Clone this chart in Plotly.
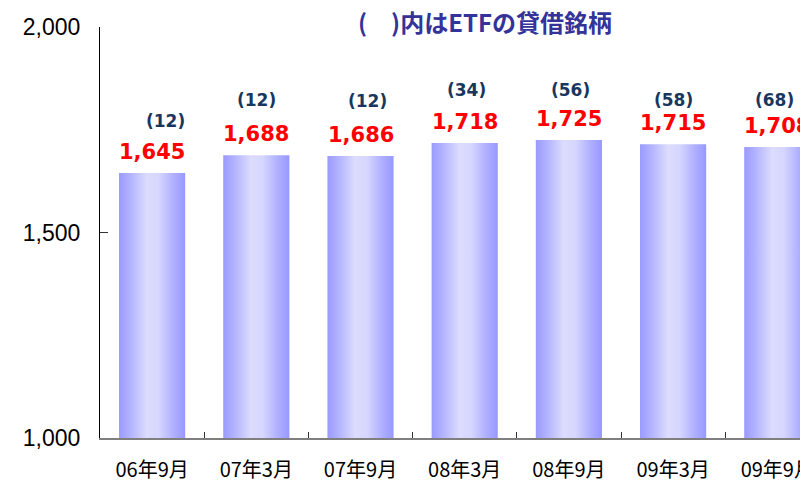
import plotly.graph_objects as go

# ---- data ----
categories = ["06年9月", "07年3月", "07年9月", "08年3月", "08年9月", "09年3月", "09年9月"]
values = [1645, 1688, 1686, 1718, 1725, 1715, 1708]
etf_counts = [12, 12, 12, 34, 56, 58, 68]
y_ticks = [1000, 1500, 2000]
title_text = "(　)内はETFの貸借銘柄"

# ---- style ----
BAR_W = 0.635
BASE = 1000
grad = [[0.0, "#9a9aff"], [0.18, "#b4b4ff"], [0.42, "#dcdcfd"], [0.6, "#d6d6ff"],
        [0.82, "#b0b0ff"], [1.0, "#9898ff"]]
navy_shift_y = [52, 55, 55, 53, 50, 44, 47]
navy_shift_x = [13, 0, 7, 2, 2, 0, -3]

# page has an 8px body margin; figure sized so the plot lands where the reference has it
OFF = 8
W, H = 808, 481 - OFF
ML, MR, MT, MB = 100 - OFF, 0, 27 - OFF, 43
pw, ph = W - ML - MR, H - MT - MB
CAT_PX = 104.2  # pixel width of one category in the reference
x_hi = -0.5 + pw / CAT_PX

fig = go.Figure()
for i, v in enumerate(values):
    x0, x1 = i - BAR_W / 2, i + BAR_W / 2
    fig.add_trace(go.Scatter(
        x=[x0, x1, x1, x0, x0], y=[BASE, BASE, v, v, BASE],
        mode="lines", fill="toself", line=dict(width=0, color="rgba(0,0,0,0)"),
        fillgradient=dict(type="horizontal", colorscale=grad),
        hoverinfo="skip", showlegend=False, cliponaxis=False))

annotations = []
for i, (v, c) in enumerate(zip(values, etf_counts)):
    annotations.append(dict(
        x=i, y=v, xref="x", yref="y", text=f"{v:,}", showarrow=False,
        yanchor="middle", yshift=21,
        font=dict(family="DejaVu Sans", size=21, color="#ff0000", weight="bold")))
    annotations.append(dict(
        x=i, y=v, xref="x", yref="y", text=f"({c})", showarrow=False,
        yanchor="middle", yshift=navy_shift_y[i], xshift=navy_shift_x[i],
        font=dict(family="DejaVu Sans", size=17, color="#17375e", weight="bold")))

annotations.append(dict(
    x=(485 - OFF - ML) / pw, y=(H - MB - (22 - OFF)) / ph, xref="paper", yref="paper",
    xanchor="center", yanchor="middle", text=title_text, showarrow=False,
    font=dict(family="Noto Sans CJK JP", size=24, color="#333399", weight="bold")))

fig.update_layout(
    width=W, height=H,
    margin=dict(l=ML, r=MR, t=MT, b=MB, autoexpand=False),
    paper_bgcolor="white", plot_bgcolor="white",
    annotations=annotations,
    xaxis=dict(
        range=[-0.5, x_hi], tickmode="array",
        tickvals=list(range(len(categories))), ticktext=categories,
        ticks="", showgrid=False, zeroline=False,
        showline=True, linecolor="#7f7f7f", linewidth=2,
        tickfont=dict(family="Noto Sans CJK JP", size=20, color="#000000"),
        ticklabelstandoff=13, ticklabeloverflow="allow",
        minor=dict(tickvals=[i + 0.5 for i in range(len(categories) - 1)],
                   ticks="inside", ticklen=6, tickcolor="#333333", tickwidth=1,
                   showgrid=False),
    ),
    yaxis=dict(
        range=[1000, 2000], tickmode="array", tickvals=y_ticks,
        ticktext=[f"{t:,}" for t in y_ticks],
        ticks="inside", ticklen=8, tickcolor="#333333", tickwidth=1,
        showgrid=False, zeroline=False,
        showline=True, linecolor="#000000", linewidth=1,
        tickfont=dict(family="Liberation Sans", size=23, color="#000000"),
        ticklabelstandoff=14, ticklabeloverflow="allow",
    ),
)

fig.write_html("out.html")
